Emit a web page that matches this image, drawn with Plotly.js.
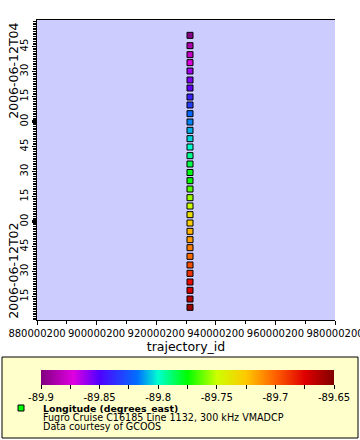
<!DOCTYPE html>
<html>
<head>
<meta charset="utf-8">
<script src="https://cdn.plot.ly/plotly-3.0.1.min.js"></script>
<style>html,body{margin:0;padding:0;background:#fff;}#chart{width:360px;height:440px;}</style>
</head>
<body>
<div id="chart"></div>
<script>
// ---- data ----
const trajectoryId = [931342000,931342000,931342000,931342000,931342000,931342000,931342000,931342000,931342000,931342000,931342000,
  931342000,931342000,931342000,931342000,931342000,931342000,931342000,931342000,931342000,931342000,931342000,
  931342000,931342000,931342000,931342000,931342000,931342000,931342000,931342000,931342000,931342000,931342000];
const times = ["2006-06-12 02:08:30","2006-06-12 02:13:30","2006-06-12 02:18:42","2006-06-12 02:23:42","2006-06-12 02:28:54",
  "2006-06-12 02:33:54","2006-06-12 02:39:06","2006-06-12 02:44:18","2006-06-12 02:49:06","2006-06-12 02:54:06",
  "2006-06-12 02:59:06","2006-06-12 03:04:06","2006-06-12 03:09:18","2006-06-12 03:14:18","2006-06-12 03:19:30",
  "2006-06-12 03:24:30","2006-06-12 03:29:24","2006-06-12 03:34:30","2006-06-12 03:39:30","2006-06-12 03:44:42",
  "2006-06-12 03:49:42","2006-06-12 03:54:42","2006-06-12 03:59:42","2006-06-12 04:04:42","2006-06-12 04:09:54",
  "2006-06-12 04:14:42","2006-06-12 04:20:06","2006-06-12 04:24:54","2006-06-12 04:30:18","2006-06-12 04:35:18",
  "2006-06-12 04:40:06","2006-06-12 04:45:30","2006-06-12 04:51:42"];
const longitude = [-89.6575,-89.665,-89.6725,-89.6775,-89.6875,-89.695,-89.7025,-89.7075,-89.715,-89.72,
  -89.7275,-89.735,-89.75,-89.756,-89.765,-89.775,-89.7775,-89.784,-89.7925,-89.80,
  -89.805,-89.81,-89.815,-89.82,-89.8325,-89.84,-89.8525,-89.8575,-89.8625,-89.874,
  -89.88,-89.8875,-89.8975];

const xTickVals = [880000200,900000200,920000200,940000200,960000200,980000200];
const xTickText = ["880000200","900000200","920000200","940000200","960000200","980000200"];
const yTickVals = ["2006-06-12 02:15","2006-06-12 02:30","2006-06-12 02:45","2006-06-12 03:00","2006-06-12 03:15",
  "2006-06-12 03:30","2006-06-12 03:45","2006-06-12 04:00","2006-06-12 04:15","2006-06-12 04:30","2006-06-12 04:45"];
const yTickText = ["15","30","45","00","15","30","45","00","15","30","45"];
const dateLabels = ["2006-06-12T02","2006-06-12T04"];
const dateLabelPos = ["2006-06-12 02:30:27","2006-06-12 04:30:27"];
const cbTickVals = [-89.9,-89.875,-89.85,-89.825,-89.8,-89.775,-89.75,-89.725,-89.7,-89.675,-89.65];
const cbTickText = ["-89.9","","-89.85","","-89.8","","-89.75","","-89.7","","-89.65"];
const legendTitle = "Longitude (degrees_east)";
const legendLines = ["Fugro Cruise C16185 Line 1132, 300 kHz VMADCP","Data courtesy of GCOOS"];

// ---- layout helpers ----
const M = {l:37, r:25, t:20, b:120};
const PW = 360 - M.l - M.r, PH = 440 - M.t - M.b;
const px = x => (x - M.l) / PW;
const py = y => (440 - M.b - y) / PH;
const FONT = "DejaVu Sans";

const colorscale = [[0,'#800080'],[0.11,'#e000e0'],[0.2,'#5000ff'],[0.33,'#0070ff'],[0.4,'#00ffd0'],
  [0.5,'#00ff00'],[0.6,'#ccff00'],[0.7,'#ffc800'],[0.8,'#ff6000'],[0.9,'#e00000'],[1,'#800000']];

const trace = {
  type:'scatter', mode:'markers', x:trajectoryId, y:times, showlegend:false, hoverinfo:'skip',
  marker:{symbol:'square', size:6, color:longitude, cmin:-89.9, cmax:-89.65, colorscale:colorscale,
    line:{color:'#000', width:1},
    colorbar:{orientation:'h', lenmode:'pixels', len:293, thicknessmode:'pixels', thickness:15,
      x:px(187.5), xanchor:'center', y:py(370), yanchor:'top', xpad:0, ypad:0,
      outlinewidth:0, ticks:'outside', ticklen:4, tickwidth:1, tickcolor:'#000',
      tickmode:'array', tickvals:cbTickVals, ticktext:cbTickText,
      tickfont:{family:FONT, size:10, color:'#000'}, bgcolor:'rgba(0,0,0,0)'}}
};

const shapes = [
  {type:'rect', xref:'paper', yref:'paper', x0:px(2), x1:px(358), y0:py(438), y1:py(357),
   fillcolor:'#ffffcc', line:{color:'#000', width:1}, layer:'below'},
  {type:'rect', xref:'paper', yref:'paper', x0:px(18), x1:px(24), y0:py(411), y1:py(405),
   fillcolor:'#00ff00', line:{color:'#000', width:1}, layer:'above'}
];
yTickVals.forEach((v,i)=>{ if (yTickText[i]==="00") shapes.push(
  {type:'line', xref:'paper', yref:'y', x0:px(32), x1:px(37), y0:v, y1:v, line:{color:'#000', width:3}}); });

const annotations = [];
dateLabels.forEach((t,i)=>annotations.push({text:t, xref:'paper', yref:'y', x:px(14), y:dateLabelPos[i],
  textangle:-90, showarrow:false, xanchor:'center', yanchor:'middle', font:{family:FONT, size:12.5, color:'#000'}}));
annotations.push({text:'<b>'+legendTitle+'</b>', xref:'paper', yref:'paper', x:px(42), y:py(408), xanchor:'left', yanchor:'middle',
  showarrow:false, borderpad:0, font:{family:FONT, size:9.4, color:'#000'}});
legendLines.forEach((t,i)=>annotations.push({text:t, xref:'paper', yref:'paper', x:px(42), y:py(417.5+9.4*i), xanchor:'left', yanchor:'middle',
  showarrow:false, borderpad:0, font:{family:FONT, size:9.6, color:'#000'}}));

const layout = {
  width:360, height:440, margin:M, paper_bgcolor:'#fff', plot_bgcolor:'#ccccff',
  font:{family:FONT, color:'#000'}, showlegend:false,
  xaxis:{range:[880000200,980000200], tickmode:'array', tickvals:xTickVals, ticktext:xTickText,
    ticks:'outside', ticklen:4, tickcolor:'#000', showgrid:false, zeroline:false, ticklabeloverflow:'allow',
    showline:true, linecolor:'#000', linewidth:1, mirror:true,
    minor:{dtick:10000000, tick0:880000200, ticks:'outside', ticklen:3, tickcolor:'#000', showgrid:false},
    tickfont:{family:FONT, size:10}, title:{text:'trajectory_id', font:{family:FONT, size:12.5}, standoff:2}},
  yaxis:{type:'date', range:["2006-06-12 02:00:54","2006-06-12 05:00:54"], tickmode:'array',
    tickvals:yTickVals, ticktext:yTickText, tickangle:-90, ticklabeloverflow:'allow',
    ticks:'outside', ticklen:4, tickcolor:'#000', showgrid:false, zeroline:false,
    showline:true, linecolor:'#000', linewidth:1,
    minor:{dtick:60000, tick0:"2006-06-12 00:00", ticks:'outside', ticklen:3, tickcolor:'#000', showgrid:false},
    tickfont:{family:FONT, size:10}},
  shapes:shapes, annotations:annotations
};

Plotly.newPlot('chart', [trace], layout, {displayModeBar:false, staticPlot:true});
</script>
</body>
</html>
